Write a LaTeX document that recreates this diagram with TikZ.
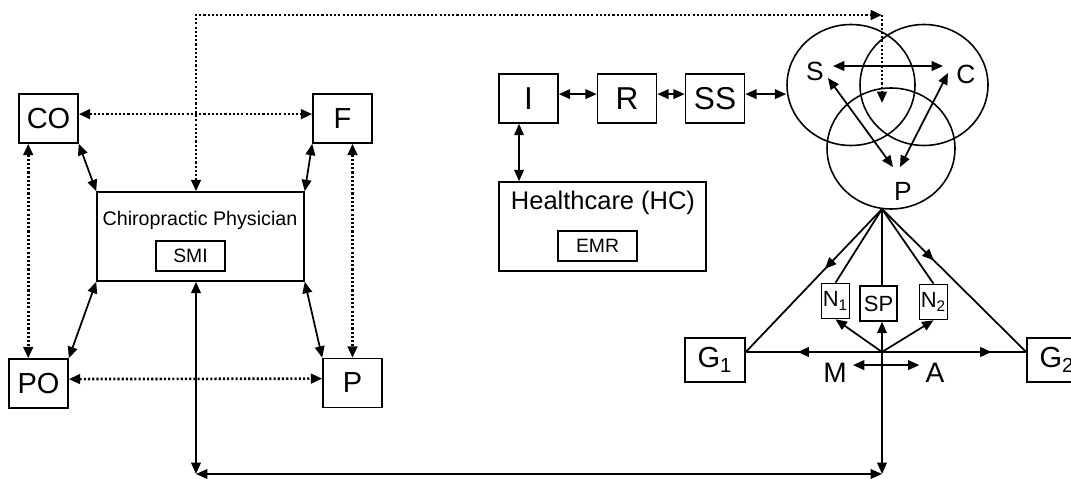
\documentclass[tikz,border=0pt]{standalone}
\usepackage{fontspec}
\setmainfont{Liberation Sans}
\usetikzlibrary{arrows.meta,shapes.geometric,decorations.markings}

\newcommand{\fs}[1]{\fontsize{#1}{#1}\selectfont}

\begin{document}
\begin{tikzpicture}[x=0.02cm,y=-0.02cm,
    >={Triangle[length=6.5pt,width=5.5pt]},
    box/.style={draw,line width=0.9pt,inner sep=0pt,minimum width=1.18cm,minimum height=0.98cm,font=\fs{16.5}},
    bigbox/.style={draw,line width=0.9pt,minimum width=4.14cm,minimum height=1.78cm},
    inbox/.style={draw,line width=0.9pt,inner sep=0pt,minimum height=0.6cm,font=\fs{11}},
    gbox/.style={box,minimum width=1.2cm,minimum height=0.88cm},
    nbox/.style={draw,line width=0.9pt,inner sep=0pt,minimum width=0.56cm,minimum height=0.7cm,font=\fs{12.5}},
    ring/.style={draw,ellipse,line width=0.9pt,minimum width=2.56cm,minimum height=2.42cm},
    link/.style={line width=1pt},
    dots/.style={line width=1.5pt,dash pattern=on 1.2pt off 1.2pt},
    midarrow/.style={postaction={decorate},decoration={markings,mark=at position #1 with {\arrow{>}}}}]
      \useasboundingbox (0,0) rectangle (1071,479);

      % physician and the four around it
      \node[box] (co) at (48.5,118.5) {CO};
      \node[box] (f) at (342.5,118.5) {F};
      \node[box] (po) at (38.5,383.5) {PO};
      \node[box] (pr) at (352.5,383) {P};
      \node[bigbox] (cp) at (200.5,236.5) {};
      \node[font=\fs{11.2}] (cpname) at (200,220) {Chiropractic Physician};
      \node[inbox,minimum width=1.38cm] (smi) at (190.5,256) {SMI};

      % information chain and healthcare
      \node[box,font=\fs{18}] (i) at (528.5,98.5) {I};
      \node[box,font=\fs{18}] (r) at (627,98.5) {R};
      \node[box,font=\fs{18}] (ss) at (715,98.5) {SS};
      \node[bigbox] (hc) at (602.5,226.5) {};
      \node[font=\fs{14.5}] (hcname) at (603,203) {Healthcare (HC)};
      \node[inbox,minimum width=1.58cm] (emr) at (597.5,246) {EMR};

      % three circles
      \node[ring] (cs) at (851,85) {};
      \node[ring] (cc) at (924,85) {};
      \node[ring] (cpt) at (891,148.5) {};
      \node[font=\fs{15}] (ls) at (815,71) {S};
      \node[font=\fs{15}] (lc) at (966,74) {C};
      \node[font=\fs{15}] (lp) at (903,191) {P};

      % groups below
      \node[gbox] (g1) at (715,360) {G\textsubscript{1}};
      \node[gbox] (g2) at (1057,360) {G\textsubscript{2}};
      \node[nbox] (n1) at (835.5,301) {N\textsubscript{1}};
      \node[nbox,minimum width=0.74cm] (sp) at (878.5,303.5) {SP};
      \node[nbox] (n2) at (933.5,302) {N\textsubscript{2}};
      \node[font=\fs{16}] (lm) at (835,373) {M};
      \node[font=\fs{16}] (la) at (935,373) {A};

      \coordinate (tl) at (196,15);
      \coordinate (tr) at (882,15);
      \coordinate (drop) at (882,103);
      \coordinate (apex) at (882,209);
      \coordinate (hub) at (882,352);
      \coordinate (bl) at (196,474);
      \coordinate (br) at (882,474);
      \coordinate (sc1) at (833,66);
      \coordinate (sc2) at (943,66);
      \coordinate (sp1) at (828,78);
      \coordinate (sp2) at (893,167);
      \coordinate (cp1) at (948,73);
      \coordinate (cp2) at (900,167);

      % dotted links
      \draw[dots,<->] ([yshift=2.5pt]co.east) -- ([yshift=2.5pt]f.west);
      \draw[dots,<->] ([yshift=2.5pt]po.east) -- ([yshift=2.5pt]pr.west);
      \draw[dots,<->] ([xshift=5.7pt]co.south west) -- ([xshift=5.7pt]co.south west |- po.north);
      \draw[dots,<->] (f.south -| pr.north) -- (pr.north);
      \draw[dots,<->] (cp.north -| tl) -- (tl) -- (tr);
      \draw[dots,->] (tr) -- (drop);

      % solid links
      \draw[link,<->] (co.south east) -- (cp.north west);
      \draw[link,<->] (f.south west) -- (cp.north east);
      \draw[link,<->] (po.north east) -- (cp.south west);
      \draw[link,<->] (pr.north west) -- (cp.south east);
      \draw[link,<->] ([yshift=2.5pt]i.east) -- ([yshift=2.5pt]r.west);
      \draw[link,<->] ([yshift=2.5pt]r.east) -- ([yshift=2.5pt]ss.west);
      \draw[link,<->] ([yshift=2.5pt]ss.east) -- ([yshift=2.5pt]ss.east -| cs.west);
      \draw[link,<->] ([xshift=-5.4pt]i.south) -- ([xshift=-5.4pt]i.south |- hc.north);
      \draw[link,<->] (sc1) -- (sc2);
      \draw[link,<->] (sp1) -- (sp2);
      \draw[link,<->] (cp1) -- (cp2);

      \draw[link,midarrow=0.42] (apex) -- (g1.east |- hub);
      \draw[link,midarrow=0.36] (apex) -- (g2.west |- hub);
      \draw[link] (apex) -- (n1.north);
      \draw[link] (apex) -- (apex |- sp.north);
      \draw[link] (apex) -- (n2.north);
      \draw[link,->] (hub) -- (n1.south);
      \draw[link,->] (hub) -- (hub |- sp.south);
      \draw[link,->] (hub) -- (n2.south);
      \draw[link,midarrow=0.62] (hub) -- (g1.east |- hub);
      \draw[link,midarrow=0.76] (hub) -- (g2.west |- hub);
      \draw[link,<->] ([yshift=4.5pt]lm.east) -- ([yshift=4.5pt]la.west);

      % bottom return
      \draw[link,->] (hub) -- (br);
      \draw[link,<->] (bl) -- (br);
      \draw[link,<->] (cp.south -| bl) -- (bl);
\end{tikzpicture}
\end{document}
